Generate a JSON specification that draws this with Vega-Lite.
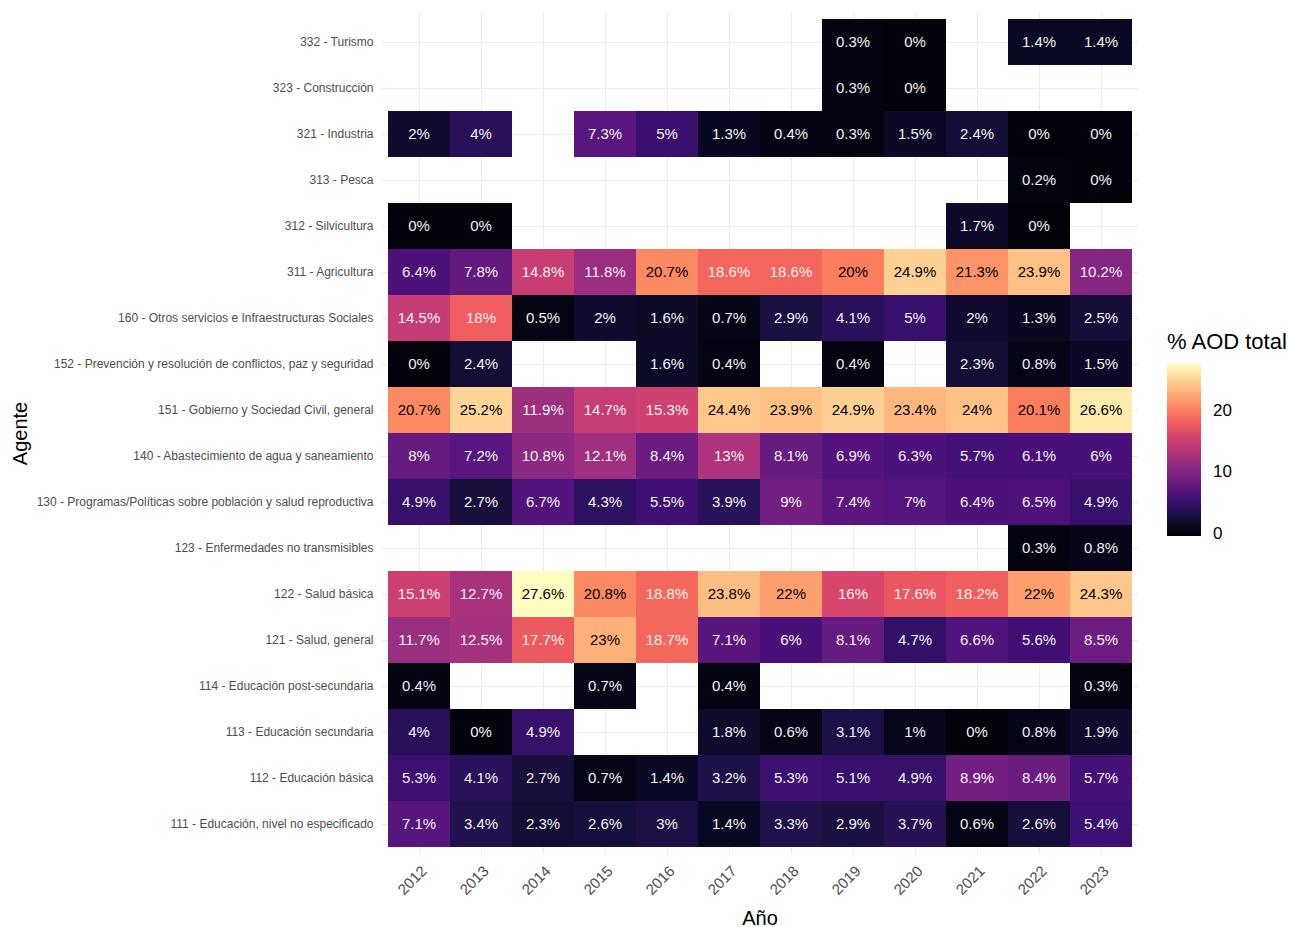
{
  "$schema": "https://vega.github.io/schema/vega-lite/v6.json",
  "autosize": "none",
  "padding": {"left": 381, "top": 12, "right": 154, "bottom": 74},
  "width": 757,
  "height": 841,
  "background": "white",
  "config": {
    "font": "Liberation Sans",
    "view": {"stroke": null},
    "axis": {"domain": false, "ticks": false, "grid": true, "gridColor": "#ebebeb", "gridWidth": 1, "bandPosition": 0.5, "zindex": 0, "labelColor": "#4d4d4d", "titleColor": "black", "titleFontWeight": "normal", "titleFont": "Liberation Sans"}
  },
  "data": {"values": [
    {"agente": "332 - Turismo", "anio": "2019", "valor": 0.3},
    {"agente": "332 - Turismo", "anio": "2020", "valor": 0},
    {"agente": "332 - Turismo", "anio": "2022", "valor": 1.4},
    {"agente": "332 - Turismo", "anio": "2023", "valor": 1.4},
    {"agente": "323 - Construcción", "anio": "2019", "valor": 0.3},
    {"agente": "323 - Construcción", "anio": "2020", "valor": 0},
    {"agente": "321 - Industria", "anio": "2012", "valor": 2},
    {"agente": "321 - Industria", "anio": "2013", "valor": 4},
    {"agente": "321 - Industria", "anio": "2015", "valor": 7.3},
    {"agente": "321 - Industria", "anio": "2016", "valor": 5},
    {"agente": "321 - Industria", "anio": "2017", "valor": 1.3},
    {"agente": "321 - Industria", "anio": "2018", "valor": 0.4},
    {"agente": "321 - Industria", "anio": "2019", "valor": 0.3},
    {"agente": "321 - Industria", "anio": "2020", "valor": 1.5},
    {"agente": "321 - Industria", "anio": "2021", "valor": 2.4},
    {"agente": "321 - Industria", "anio": "2022", "valor": 0},
    {"agente": "321 - Industria", "anio": "2023", "valor": 0},
    {"agente": "313 - Pesca", "anio": "2022", "valor": 0.2},
    {"agente": "313 - Pesca", "anio": "2023", "valor": 0},
    {"agente": "312 - Silvicultura", "anio": "2012", "valor": 0},
    {"agente": "312 - Silvicultura", "anio": "2013", "valor": 0},
    {"agente": "312 - Silvicultura", "anio": "2021", "valor": 1.7},
    {"agente": "312 - Silvicultura", "anio": "2022", "valor": 0},
    {"agente": "311 - Agricultura", "anio": "2012", "valor": 6.4},
    {"agente": "311 - Agricultura", "anio": "2013", "valor": 7.8},
    {"agente": "311 - Agricultura", "anio": "2014", "valor": 14.8},
    {"agente": "311 - Agricultura", "anio": "2015", "valor": 11.8},
    {"agente": "311 - Agricultura", "anio": "2016", "valor": 20.7},
    {"agente": "311 - Agricultura", "anio": "2017", "valor": 18.6},
    {"agente": "311 - Agricultura", "anio": "2018", "valor": 18.6},
    {"agente": "311 - Agricultura", "anio": "2019", "valor": 20},
    {"agente": "311 - Agricultura", "anio": "2020", "valor": 24.9},
    {"agente": "311 - Agricultura", "anio": "2021", "valor": 21.3},
    {"agente": "311 - Agricultura", "anio": "2022", "valor": 23.9},
    {"agente": "311 - Agricultura", "anio": "2023", "valor": 10.2},
    {"agente": "160 - Otros servicios e Infraestructuras Sociales", "anio": "2012", "valor": 14.5},
    {"agente": "160 - Otros servicios e Infraestructuras Sociales", "anio": "2013", "valor": 18},
    {"agente": "160 - Otros servicios e Infraestructuras Sociales", "anio": "2014", "valor": 0.5},
    {"agente": "160 - Otros servicios e Infraestructuras Sociales", "anio": "2015", "valor": 2},
    {"agente": "160 - Otros servicios e Infraestructuras Sociales", "anio": "2016", "valor": 1.6},
    {"agente": "160 - Otros servicios e Infraestructuras Sociales", "anio": "2017", "valor": 0.7},
    {"agente": "160 - Otros servicios e Infraestructuras Sociales", "anio": "2018", "valor": 2.9},
    {"agente": "160 - Otros servicios e Infraestructuras Sociales", "anio": "2019", "valor": 4.1},
    {"agente": "160 - Otros servicios e Infraestructuras Sociales", "anio": "2020", "valor": 5},
    {"agente": "160 - Otros servicios e Infraestructuras Sociales", "anio": "2021", "valor": 2},
    {"agente": "160 - Otros servicios e Infraestructuras Sociales", "anio": "2022", "valor": 1.3},
    {"agente": "160 - Otros servicios e Infraestructuras Sociales", "anio": "2023", "valor": 2.5},
    {"agente": "152 - Prevención y resolución de conflictos, paz y seguridad", "anio": "2012", "valor": 0},
    {"agente": "152 - Prevención y resolución de conflictos, paz y seguridad", "anio": "2013", "valor": 2.4},
    {"agente": "152 - Prevención y resolución de conflictos, paz y seguridad", "anio": "2016", "valor": 1.6},
    {"agente": "152 - Prevención y resolución de conflictos, paz y seguridad", "anio": "2017", "valor": 0.4},
    {"agente": "152 - Prevención y resolución de conflictos, paz y seguridad", "anio": "2019", "valor": 0.4},
    {"agente": "152 - Prevención y resolución de conflictos, paz y seguridad", "anio": "2021", "valor": 2.3},
    {"agente": "152 - Prevención y resolución de conflictos, paz y seguridad", "anio": "2022", "valor": 0.8},
    {"agente": "152 - Prevención y resolución de conflictos, paz y seguridad", "anio": "2023", "valor": 1.5},
    {"agente": "151 - Gobierno y Sociedad Civil, general", "anio": "2012", "valor": 20.7},
    {"agente": "151 - Gobierno y Sociedad Civil, general", "anio": "2013", "valor": 25.2},
    {"agente": "151 - Gobierno y Sociedad Civil, general", "anio": "2014", "valor": 11.9},
    {"agente": "151 - Gobierno y Sociedad Civil, general", "anio": "2015", "valor": 14.7},
    {"agente": "151 - Gobierno y Sociedad Civil, general", "anio": "2016", "valor": 15.3},
    {"agente": "151 - Gobierno y Sociedad Civil, general", "anio": "2017", "valor": 24.4},
    {"agente": "151 - Gobierno y Sociedad Civil, general", "anio": "2018", "valor": 23.9},
    {"agente": "151 - Gobierno y Sociedad Civil, general", "anio": "2019", "valor": 24.9},
    {"agente": "151 - Gobierno y Sociedad Civil, general", "anio": "2020", "valor": 23.4},
    {"agente": "151 - Gobierno y Sociedad Civil, general", "anio": "2021", "valor": 24},
    {"agente": "151 - Gobierno y Sociedad Civil, general", "anio": "2022", "valor": 20.1},
    {"agente": "151 - Gobierno y Sociedad Civil, general", "anio": "2023", "valor": 26.6},
    {"agente": "140 - Abastecimiento de agua y saneamiento", "anio": "2012", "valor": 8},
    {"agente": "140 - Abastecimiento de agua y saneamiento", "anio": "2013", "valor": 7.2},
    {"agente": "140 - Abastecimiento de agua y saneamiento", "anio": "2014", "valor": 10.8},
    {"agente": "140 - Abastecimiento de agua y saneamiento", "anio": "2015", "valor": 12.1},
    {"agente": "140 - Abastecimiento de agua y saneamiento", "anio": "2016", "valor": 8.4},
    {"agente": "140 - Abastecimiento de agua y saneamiento", "anio": "2017", "valor": 13},
    {"agente": "140 - Abastecimiento de agua y saneamiento", "anio": "2018", "valor": 8.1},
    {"agente": "140 - Abastecimiento de agua y saneamiento", "anio": "2019", "valor": 6.9},
    {"agente": "140 - Abastecimiento de agua y saneamiento", "anio": "2020", "valor": 6.3},
    {"agente": "140 - Abastecimiento de agua y saneamiento", "anio": "2021", "valor": 5.7},
    {"agente": "140 - Abastecimiento de agua y saneamiento", "anio": "2022", "valor": 6.1},
    {"agente": "140 - Abastecimiento de agua y saneamiento", "anio": "2023", "valor": 6},
    {"agente": "130 - Programas/Políticas sobre población y salud reproductiva", "anio": "2012", "valor": 4.9},
    {"agente": "130 - Programas/Políticas sobre población y salud reproductiva", "anio": "2013", "valor": 2.7},
    {"agente": "130 - Programas/Políticas sobre población y salud reproductiva", "anio": "2014", "valor": 6.7},
    {"agente": "130 - Programas/Políticas sobre población y salud reproductiva", "anio": "2015", "valor": 4.3},
    {"agente": "130 - Programas/Políticas sobre población y salud reproductiva", "anio": "2016", "valor": 5.5},
    {"agente": "130 - Programas/Políticas sobre población y salud reproductiva", "anio": "2017", "valor": 3.9},
    {"agente": "130 - Programas/Políticas sobre población y salud reproductiva", "anio": "2018", "valor": 9},
    {"agente": "130 - Programas/Políticas sobre población y salud reproductiva", "anio": "2019", "valor": 7.4},
    {"agente": "130 - Programas/Políticas sobre población y salud reproductiva", "anio": "2020", "valor": 7},
    {"agente": "130 - Programas/Políticas sobre población y salud reproductiva", "anio": "2021", "valor": 6.4},
    {"agente": "130 - Programas/Políticas sobre población y salud reproductiva", "anio": "2022", "valor": 6.5},
    {"agente": "130 - Programas/Políticas sobre población y salud reproductiva", "anio": "2023", "valor": 4.9},
    {"agente": "123 - Enfermedades no transmisibles", "anio": "2022", "valor": 0.3},
    {"agente": "123 - Enfermedades no transmisibles", "anio": "2023", "valor": 0.8},
    {"agente": "122 - Salud básica", "anio": "2012", "valor": 15.1},
    {"agente": "122 - Salud básica", "anio": "2013", "valor": 12.7},
    {"agente": "122 - Salud básica", "anio": "2014", "valor": 27.6},
    {"agente": "122 - Salud básica", "anio": "2015", "valor": 20.8},
    {"agente": "122 - Salud básica", "anio": "2016", "valor": 18.8},
    {"agente": "122 - Salud básica", "anio": "2017", "valor": 23.8},
    {"agente": "122 - Salud básica", "anio": "2018", "valor": 22},
    {"agente": "122 - Salud básica", "anio": "2019", "valor": 16},
    {"agente": "122 - Salud básica", "anio": "2020", "valor": 17.6},
    {"agente": "122 - Salud básica", "anio": "2021", "valor": 18.2},
    {"agente": "122 - Salud básica", "anio": "2022", "valor": 22},
    {"agente": "122 - Salud básica", "anio": "2023", "valor": 24.3},
    {"agente": "121 - Salud, general", "anio": "2012", "valor": 11.7},
    {"agente": "121 - Salud, general", "anio": "2013", "valor": 12.5},
    {"agente": "121 - Salud, general", "anio": "2014", "valor": 17.7},
    {"agente": "121 - Salud, general", "anio": "2015", "valor": 23},
    {"agente": "121 - Salud, general", "anio": "2016", "valor": 18.7},
    {"agente": "121 - Salud, general", "anio": "2017", "valor": 7.1},
    {"agente": "121 - Salud, general", "anio": "2018", "valor": 6},
    {"agente": "121 - Salud, general", "anio": "2019", "valor": 8.1},
    {"agente": "121 - Salud, general", "anio": "2020", "valor": 4.7},
    {"agente": "121 - Salud, general", "anio": "2021", "valor": 6.6},
    {"agente": "121 - Salud, general", "anio": "2022", "valor": 5.6},
    {"agente": "121 - Salud, general", "anio": "2023", "valor": 8.5},
    {"agente": "114 - Educación post-secundaria", "anio": "2012", "valor": 0.4},
    {"agente": "114 - Educación post-secundaria", "anio": "2015", "valor": 0.7},
    {"agente": "114 - Educación post-secundaria", "anio": "2017", "valor": 0.4},
    {"agente": "114 - Educación post-secundaria", "anio": "2023", "valor": 0.3},
    {"agente": "113 - Educación secundaria", "anio": "2012", "valor": 4},
    {"agente": "113 - Educación secundaria", "anio": "2013", "valor": 0},
    {"agente": "113 - Educación secundaria", "anio": "2014", "valor": 4.9},
    {"agente": "113 - Educación secundaria", "anio": "2017", "valor": 1.8},
    {"agente": "113 - Educación secundaria", "anio": "2018", "valor": 0.6},
    {"agente": "113 - Educación secundaria", "anio": "2019", "valor": 3.1},
    {"agente": "113 - Educación secundaria", "anio": "2020", "valor": 1},
    {"agente": "113 - Educación secundaria", "anio": "2021", "valor": 0},
    {"agente": "113 - Educación secundaria", "anio": "2022", "valor": 0.8},
    {"agente": "113 - Educación secundaria", "anio": "2023", "valor": 1.9},
    {"agente": "112 - Educación básica", "anio": "2012", "valor": 5.3},
    {"agente": "112 - Educación básica", "anio": "2013", "valor": 4.1},
    {"agente": "112 - Educación básica", "anio": "2014", "valor": 2.7},
    {"agente": "112 - Educación básica", "anio": "2015", "valor": 0.7},
    {"agente": "112 - Educación básica", "anio": "2016", "valor": 1.4},
    {"agente": "112 - Educación básica", "anio": "2017", "valor": 3.2},
    {"agente": "112 - Educación básica", "anio": "2018", "valor": 5.3},
    {"agente": "112 - Educación básica", "anio": "2019", "valor": 5.1},
    {"agente": "112 - Educación básica", "anio": "2020", "valor": 4.9},
    {"agente": "112 - Educación básica", "anio": "2021", "valor": 8.9},
    {"agente": "112 - Educación básica", "anio": "2022", "valor": 8.4},
    {"agente": "112 - Educación básica", "anio": "2023", "valor": 5.7},
    {"agente": "111 - Educación, nivel no especificado", "anio": "2012", "valor": 7.1},
    {"agente": "111 - Educación, nivel no especificado", "anio": "2013", "valor": 3.4},
    {"agente": "111 - Educación, nivel no especificado", "anio": "2014", "valor": 2.3},
    {"agente": "111 - Educación, nivel no especificado", "anio": "2015", "valor": 2.6},
    {"agente": "111 - Educación, nivel no especificado", "anio": "2016", "valor": 3},
    {"agente": "111 - Educación, nivel no especificado", "anio": "2017", "valor": 1.4},
    {"agente": "111 - Educación, nivel no especificado", "anio": "2018", "valor": 3.3},
    {"agente": "111 - Educación, nivel no especificado", "anio": "2019", "valor": 2.9},
    {"agente": "111 - Educación, nivel no especificado", "anio": "2020", "valor": 3.7},
    {"agente": "111 - Educación, nivel no especificado", "anio": "2021", "valor": 0.6},
    {"agente": "111 - Educación, nivel no especificado", "anio": "2022", "valor": 2.6},
    {"agente": "111 - Educación, nivel no especificado", "anio": "2023", "valor": 5.4}
  ]},
  "transform": [
    {"calculate": "format(datum.valor, '.1~f') + '%'", "as": "etiqueta"}
  ],
  "encoding": {
    "x": {
      "field": "anio", "type": "ordinal", "title": "Año",
      "scale": {"domain": ["2012","2013","2014","2015","2016","2017","2018","2019","2020","2021","2022","2023"], "paddingInner": 0, "paddingOuter": 0.1, "round": true},
      "axis": {"labelAngle": -45, "labelAlign": "right", "labelBaseline": "middle", "labelPadding": 15, "labelOffset": 5, "labelFontSize": 15, "titleFontSize": 20, "titleY": 55, "titleBaseline": "top"}
    },
    "y": {
      "field": "agente", "type": "nominal", "title": "Agente",
      "scale": {"domain": [
        "332 - Turismo", "323 - Construcción", "321 - Industria", "313 - Pesca", "312 - Silvicultura", "311 - Agricultura",
        "160 - Otros servicios e Infraestructuras Sociales",
        "152 - Prevención y resolución de conflictos, paz y seguridad",
        "151 - Gobierno y Sociedad Civil, general",
        "140 - Abastecimiento de agua y saneamiento",
        "130 - Programas/Políticas sobre población y salud reproductiva",
        "123 - Enfermedades no transmisibles", "122 - Salud básica", "121 - Salud, general",
        "114 - Educación post-secundaria", "113 - Educación secundaria", "112 - Educación básica",
        "111 - Educación, nivel no especificado"], "paddingInner": 0, "paddingOuter": 0.1, "round": true},
      "axis": {"labelFontSize": 12, "labelPadding": 8, "labelLimit": 400, "titleFontSize": 20, "titleX": -361, "titleY": 421, "titleAngle": -90, "titleBaseline": "middle", "titleAlign": "center"}
    }
  },
  "layer": [
    {
      "mark": {"type": "rect"},
      "encoding": {
        "color": {
          "field": "valor", "type": "quantitative", "title": "% AOD total",
          "scale": {"scheme": "magma", "domainMin": -0.4, "nice": false},
          "legend": {
            "orient": "none", "legendX": 786, "legendY": 320, "direction": "vertical",
            "gradientLength": 172, "gradientThickness": 34, "values": [0, 10, 20],
            "titleFontSize": 22, "titleFontWeight": "normal", "titleColor": "black", "titlePadding": 10,
            "labelFontSize": 17, "labelColor": "black", "labelOffset": 12, "labelOverlap": false
          }
        }
      }
    },
    {
      "mark": {"type": "text", "fontSize": 15},
      "encoding": {
        "text": {"field": "etiqueta"},
        "color": {"condition": {"test": "datum.valor > 19", "value": "black"}, "value": "#f2f2f2"}
      }
    }
  ]
}
